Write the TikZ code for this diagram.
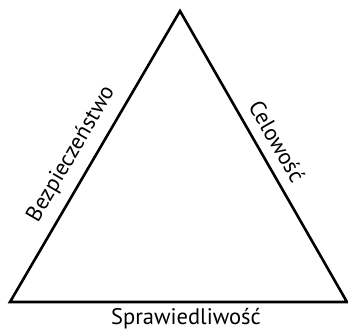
\documentclass[tikz,border=0pt]{standalone}
\usepackage{fontspec}
\newfontfamily\labelfont{PT Sans}
\usepackage{tikz}
\usetikzlibrary{positioning}

\begin{document}
\begin{tikzpicture}[
  x=1pt, y=-1pt,
  side/.style={draw, line width=2.6pt, line join=miter},
  word/.style={font=\labelfont\fontsize{22.5}{22.5}\selectfont, inner sep=1pt}
]
\useasboundingbox (0,0) rectangle (348,332);
\coordinate (top) at (180,11);
\coordinate (left) at (10,302);
\coordinate (right) at (347,302);
\path[side] (left) -- (top) -- (right) -- cycle;
\path (left) -- (top) node[word, sloped, above=10pt, pos=0.47] (bezp) {Bezpieczeństwo};
\path (top) -- (right) node[word, sloped, above=10pt, pos=0.48] (celo) {Celowość};
\node[word, anchor=north] (spraw) at (186,307) {Sprawiedliwość};
\end{tikzpicture}
\end{document}
